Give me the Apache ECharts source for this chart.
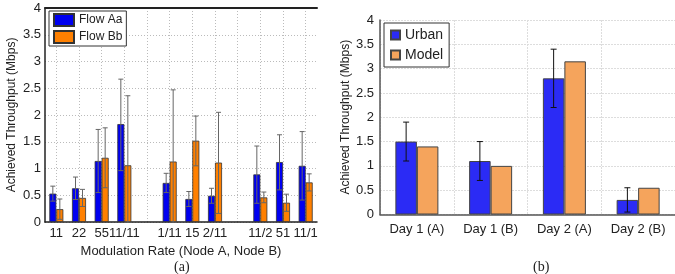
<!DOCTYPE html>
<html>
<head>
<meta charset="utf-8">
<script src="https://cdn.jsdelivr.net/npm/echarts@6/dist/echarts.min.js"></script>
<style>
  html, body { margin: 0; padding: 0; background: #fff; }
  #chart { width: 675px; height: 274px; }
</style>
</head>
<body>
<div id="chart"></div>
<script>
// (a) 调制速率
var leftCats = ['11', '22', '55', '11/11', '', '1/11', '15', '2/11', '', '11/2', '51', '11/1'];
var flowA = [0.53, 0.63, 1.14, 1.83, '-', 0.73, 0.43, 0.49, '-', 0.89, 1.12, 1.05];
var flowALow = [0.39, 0.42, 0.55, 0.96, '-', 0.55, 0.29, 0.35, '-', 0.35, 0.60, 0.41];
var flowAHigh = [0.67, 0.84, 1.73, 2.67, '-', 0.91, 0.57, 0.63, '-', 1.42, 1.63, 1.69];
var flowB = [0.24, 0.45, 1.20, 1.06, '-', 1.13, 1.52, 1.11, '-', 0.46, 0.36, 0.74];
var flowBLow = [0.05, 0.29, 0.64, 0, '-', 0, 1.05, 0.16, '-', 0.36, 0.20, 0.58];
var flowBHigh = [0.43, 0.61, 1.76, 2.36, '-', 2.47, 1.98, 2.05, '-', 0.56, 0.52, 0.90];

// (b) 实测与模型
var rightCats = ['Day 1 (A)', 'Day 1 (B)', 'Day 2 (A)', 'Day 2 (B)'];
var urban = [1.5, 1.1, 2.8, 0.3];
var urbanLow = [1.1, 0.7, 2.2, 0.05];
var urbanHigh = [1.9, 1.5, 3.4, 0.55];
var model = [1.4, 1.0, 3.15, 0.55];

var font = 'Liberation Sans, Arial, sans-serif';

function errData(low, high) {
    var out = [];
    for (var i = 0; i < low.length; i++) {
        if (low[i] === '-') continue;
        out.push([i, low[i], high[i]]);
    }
    return out;
}

// 误差线
function errRender(offset, cap, color) {
    return function (params, api) {
        var x = api.coord([api.value(0), 0])[0] + offset;
        var lo = api.coord([api.value(0), api.value(1)])[1];
        var hi = api.coord([api.value(0), api.value(2)])[1];
        var st = { stroke: color, lineWidth: 1 };
        return {
            type: 'group',
            children: [
                { type: 'line', shape: { x1: x, y1: lo, x2: x, y2: hi }, style: st },
                { type: 'line', shape: { x1: x - cap, y1: hi, x2: x + cap, y2: hi }, style: st },
                { type: 'line', shape: { x1: x - cap, y1: lo, x2: x + cap, y2: lo }, style: st }
            ]
        };
    };
}

var chart = echarts.init(document.getElementById('chart'));

var yLabel = { color: '#222', fontSize: 13, fontFamily: font };

var option = {
    animation: false,
    textStyle: { fontFamily: font },
    title: [{
        text: '(a)', left: 169, top: 255,
        textStyle: { fontFamily: 'Liberation Serif, serif', fontSize: 14, fontWeight: 'normal', color: '#222' }
    }, {
        text: '(b)', left: 528, top: 255,
        textStyle: { fontFamily: 'Liberation Serif, serif', fontSize: 14, fontWeight: 'normal', color: '#222' }
    }],
    legend: [{
        orient: 'vertical', left: 49, top: 11, icon: 'rect',
        itemWidth: 20, itemHeight: 12, itemGap: 3,
        padding: [2, 4, 2, 4],
        borderColor: '#333', borderWidth: 1, backgroundColor: '#fff',
        textStyle: { fontSize: 12, color: '#222', fontFamily: font },
        data: ['Flow Aa', 'Flow Bb']
    }, {
        orient: 'vertical', left: 384, top: 23, icon: 'rect',
        itemWidth: 9, itemHeight: 9, itemGap: 6, itemTextGap: 2,
        padding: [5, 6, 5, 6],
        borderColor: '#333', borderWidth: 1, backgroundColor: '#fff',
        textStyle: { fontSize: 14, color: '#222', fontFamily: font },
        data: ['Urban', 'Model']
    }],
    grid: [
        { left: 45, top: 8, width: 272, height: 214 },
        { left: 380, top: 20, width: 298, height: 194.5 }
    ],
    xAxis: [{
        type: 'category', gridIndex: 0, data: leftCats,
        name: 'Modulation Rate (Node A, Node B)', nameLocation: 'middle', nameGap: 19,
        nameTextStyle: { fontSize: 13, color: '#222', fontFamily: font },
        axisLine: { lineStyle: { color: '#222', width: 1.5 } },
        axisTick: { show: false },
        axisLabel: { interval: 0, margin: 5, fontSize: 13, color: '#222' },
        splitLine: { show: true, alignWithLabel: true, lineStyle: { color: '#bbb', type: [1, 2] } }
    }, {
        type: 'category', gridIndex: 0, data: leftCats, position: 'top',
        axisLine: { lineStyle: { color: '#222', width: 2 } },
        axisTick: { show: false }, axisLabel: { show: false }
    }, {
        type: 'category', gridIndex: 1, data: rightCats,
        axisLine: { lineStyle: { color: '#555', width: 1.5 } },
        axisTick: { show: false },
        axisLabel: { interval: 0, margin: 8, fontSize: 13, color: '#222' },
        splitLine: { show: true, lineStyle: { color: '#ddd', type: [2, 1] } }
    }],
    yAxis: [{
        type: 'value', gridIndex: 0, min: 0, max: 4, interval: 0.5,
        name: 'Achieved Throughput (Mbps)', nameLocation: 'middle', nameGap: 27,
        nameTextStyle: { fontSize: 12, color: '#222', fontFamily: font },
        axisLine: { show: true, lineStyle: { color: '#222', width: 1.5 } },
        axisTick: { show: false },
        axisLabel: Object.assign({ margin: 4 }, yLabel),
        splitLine: { lineStyle: { color: '#bbb', type: [1, 2] } }
    }, {
        type: 'value', gridIndex: 1, min: 0, max: 4, interval: 0.5,
        name: 'Achieved Throughput (Mbps)', nameLocation: 'middle', nameGap: 22,
        nameTextStyle: { fontSize: 12, color: '#222', fontFamily: font },
        axisLine: { show: true, lineStyle: { color: '#555', width: 1.5 } },
        axisTick: { show: false },
        axisLabel: Object.assign({ margin: 6 }, yLabel),
        splitLine: { lineStyle: { color: '#ddd', type: [2, 1] } }
    }],
    series: [{
        name: 'Flow Aa', type: 'bar', xAxisIndex: 0, yAxisIndex: 0,
        data: flowA, barWidth: 7, barGap: '0%',
        itemStyle: { color: '#0000f0', borderColor: '#333', borderWidth: 0.8 }
    }, {
        name: 'Flow Bb', type: 'bar', xAxisIndex: 0, yAxisIndex: 0,
        data: flowB, barWidth: 7, barGap: '0%',
        itemStyle: { color: '#ff8000', borderColor: '#333', borderWidth: 0.8 }
    }, {
        type: 'custom', xAxisIndex: 0, yAxisIndex: 0, z: 5,
        data: errData(flowALow, flowAHigh),
        renderItem: errRender(-3.5, 2.5, '#666')
    }, {
        type: 'custom', xAxisIndex: 0, yAxisIndex: 0, z: 5,
        data: errData(flowBLow, flowBHigh),
        renderItem: errRender(3.5, 2.5, '#666')
    }, {
        name: 'Urban', type: 'bar', xAxisIndex: 2, yAxisIndex: 1,
        data: urban, barWidth: 21.5, barGap: '0%',
        itemStyle: { color: '#2b2bf5', borderColor: '#444', borderWidth: 1 }
    }, {
        name: 'Model', type: 'bar', xAxisIndex: 2, yAxisIndex: 1,
        data: model, barWidth: 21.5, barGap: '0%',
        itemStyle: { color: '#f5a45c', borderColor: '#444', borderWidth: 1 }
    }, {
        type: 'custom', xAxisIndex: 2, yAxisIndex: 1, z: 5,
        data: errData(urbanLow, urbanHigh),
        renderItem: errRender(-10.75, 3, '#111')
    }]
};

chart.setOption(option);
</script>
</body>
</html>
